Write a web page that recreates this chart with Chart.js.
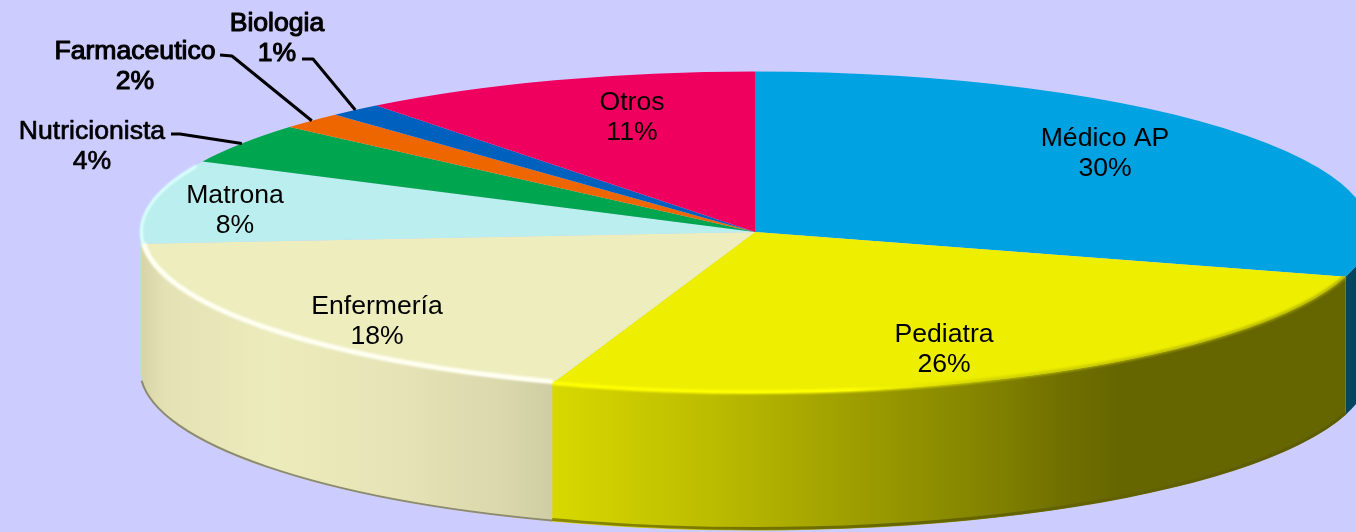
<!DOCTYPE html>
<html>
<head>
<meta charset="utf-8">
<title>Profesionales</title>
<script src="https://cdn.jsdelivr.net/npm/chart.js@4/dist/chart.umd.min.js"></script>
<style>
    html, body { margin: 0; padding: 0; background: #CCCCFF; overflow: hidden; }
    canvas { display: block; }
</style>
</head>
<body>
<canvas id="pieChart" width="1356" height="532"></canvas>
<script>
// Slice sizes; the printed percent is the rounded value
const categories = ['Médico AP', 'Pediatra', 'Enfermería', 'Matrona', 'Nutricionista', 'Farmaceutico', 'Biologia', 'Otros'];
const shares     = [29.5, 25.85, 18.49, 8.4, 4.1, 1.7, 1.4, 10.56];
const topColors  = ['#00A2E2', '#EEEE00', '#EDEDBD', '#BBEEEE', '#00A64F', '#EE6600', '#0060BE', '#F0005E'];

const RX = 615, RY = 160.5, DEPTH = 138;
const CX = 755, CY = 232;
const SQUASH = RY / RX;

// side wall shading, [x, colour] across the screen
const wallStops = {
    0: [[1346, '#00465F'], [1370, '#00465F']],
    1: [[552, '#D8D800'], [700, '#BEBE00'], [833, '#A2A200'], [1000, '#808000'], [1060, '#707000'], [1120, '#666600'], [1356, '#666600']],
    2: [[140, '#D6D3A6'], [165, '#E4E2B5'], [270, '#ECEBBB'], [400, '#E6E4B6'], [500, '#DAD8AC'], [552, '#CFCDA3']],
    3: [[140, '#BBDDDD'], [150, '#BBDDDD']]
};

// text placement: x centre, y centre of first line, and where a leader line leaves the label
const labelLayout = [
    { x: 1105, y: 138.5 },
    { x: 944,  y: 334.5 },
    { x: 377,  y: 306.5 },
    { x: 235,  y: 195.5 },
    { x: 92,   y: 131.5, heavy: 0.7, leader: [[171, 134], [180, 134]] },
    { x: 135,  y: 52,    heavy: 1.1, leader: [[220, 55], [232, 56]] },
    { x: 277,  y: 24,    heavy: 1.1, leader: [[302, 59], [313, 59]] },
    { x: 632,  y: 103 }
];

function xGradient(ctx, stops) {
    const x0 = stops[0][0], x1 = stops[stops.length - 1][0];
    const g = ctx.createLinearGradient(x0, 0, x1, 0);
    stops.forEach(s => g.addColorStop((s[0] - x0) / (x1 - x0), s[1]));
    return g;
}

function drawWalls(chart) {
    const ctx = chart.ctx;
    chart.getDatasetMeta(0).data.forEach((arc, i) => {
        const a0 = Math.max(arc.startAngle, 0);
        const a1 = Math.min(arc.endAngle, Math.PI);
        if (a1 <= a0 || !wallStops[i]) return;
        ctx.beginPath();
        ctx.ellipse(arc.x, arc.y, RX, RY, 0, a0, a1);
        ctx.ellipse(arc.x, arc.y + DEPTH, RX, RY, 0, a1, a0, true);
        ctx.closePath();
        ctx.fillStyle = xGradient(ctx, wallStops[i]);
        ctx.fill();
    });
}

function strokeRim(ctx, arc, inset, dy, a0, a1, style, width, blur) {
    ctx.save();
    ctx.filter = 'blur(' + blur + 'px)';
    ctx.beginPath();
    ctx.ellipse(arc.x, arc.y + dy, RX - inset, RY - inset, 0, a0, a1);
    ctx.strokeStyle = style;
    ctx.lineWidth = width;
    ctx.stroke();
    ctx.restore();
}

function drawEdges(chart) {
    const ctx = chart.ctx;
    const arcs = chart.getDatasetMeta(0).data;
    const ped = arcs[1], enf = arcs[2], mat = arcs[3];

    // dark line under the wall
    strokeRim(ctx, enf, 0, DEPTH - 1, enf.startAngle, enf.endAngle, '#8C8A70', 2, 0.6);
    strokeRim(ctx, ped, 0, DEPTH - 2, ped.startAngle, ped.endAngle, xGradient(ctx, [[552, '#8A8A00'], [900, '#666600'], [1356, '#5C5C00']]), 3, 0.6);

    // soft edge along the top of the wall, then the bright bevel
    strokeRim(ctx, ped, 0.5, 0, Math.max(ped.startAngle, 0), ped.endAngle,
        xGradient(ctx, [[552, '#FFFF00'], [850, '#FFFF00'], [1000, 'rgba(200,200,0,0.7)'], [1356, 'rgba(160,160,0,0.7)']]), 4, 1.2);
    strokeRim(ctx, enf, 2, 0, enf.startAngle, enf.endAngle + 0.004, '#FFFFF2', 5, 1);
    strokeRim(ctx, mat, 1.5, 0, mat.startAngle, mat.startAngle + 0.5, '#DDFFFF', 3, 1);
}

function drawLabels(chart) {
    const ctx = chart.ctx;
    const arcs = chart.getDatasetMeta(0).data;
    ctx.save();
    ctx.fillStyle = '#000';
    ctx.strokeStyle = '#000';
    ctx.textAlign = 'center';
    ctx.textBaseline = 'middle';
    ctx.font = '26.6px "Liberation Sans", Arial, sans-serif';
    ctx.lineJoin = 'round';

    categories.forEach((name, i) => {
        const pos = labelLayout[i];
        const lines = [name, Math.round(shares[i]) + '%'];
        lines.forEach((txt, k) => {
            const y = pos.y + k * 30;
            ctx.fillText(txt, pos.x, y);
            if (pos.heavy) {
                ctx.lineWidth = pos.heavy;
                ctx.strokeText(txt, pos.x, y);
            }
        });

        if (pos.leader) {
            // leader line ends on the slice's outer edge, at its middle angle
            const mid = (arcs[i].startAngle + arcs[i].endAngle) / 2;
            ctx.beginPath();
            ctx.moveTo(pos.leader[0][0], pos.leader[0][1]);
            ctx.lineTo(pos.leader[1][0], pos.leader[1][1]);
            ctx.lineTo(arcs[i].x + RX * Math.cos(mid), arcs[i].y + RY * Math.sin(mid));
            ctx.lineWidth = 3;
            ctx.stroke();
        }
    });
    ctx.restore();
}

const pie3d = {
    id: 'pie3d',
    beforeDatasetsDraw(chart) {
        drawWalls(chart);
        const ctx = chart.ctx;
        ctx.save();
        ctx.translate(0, CY);
        ctx.scale(1, SQUASH);
        ctx.translate(0, -CY);
    },
    afterDatasetsDraw(chart) {
        chart.ctx.restore();
        drawEdges(chart);
        drawLabels(chart);
    }
};

new Chart(document.getElementById('pieChart'), {
    type: 'pie',
    data: {
        labels: categories,
        datasets: [{ data: shares, backgroundColor: topColors, borderWidth: 0, clip: false }]
    },
    options: {
        responsive: false,
        animation: false,
        radius: RX,
        // puts the pie centre at CX, CY
        layout: { padding: { left: CX * 2 - 1356, right: 0, top: 0, bottom: 532 - CY * 2 } },
        plugins: { legend: { display: false }, tooltip: { enabled: false } }
    },
    plugins: [pie3d]
});
</script>
</body>
</html>
